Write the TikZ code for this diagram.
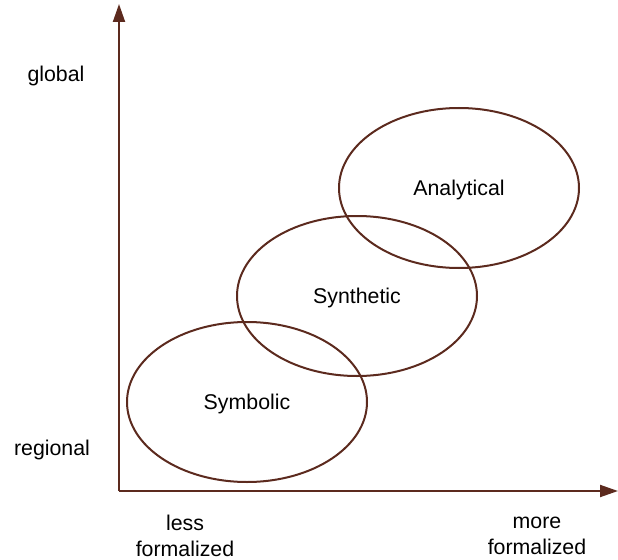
\documentclass[tikz,border=0pt]{standalone}
\usepackage{fontspec}
\setmainfont{Liberation Sans}
\usetikzlibrary{arrows.meta,shapes.geometric}
\definecolor{axisbrown}{RGB}{92,42,30}
\begin{document}
\begin{tikzpicture}[x=0.75pt,y=-0.75pt,
    axis/.style={draw=axisbrown,line width=1.5pt,-{Triangle[length=13.5pt,width=9pt]}},
    area/.style={draw=axisbrown,line width=1.5pt,ellipse,inner sep=0pt,
      text height=11pt,text depth=0pt,
      minimum width=180pt,minimum height=120pt,font=\fontsize{16}{19}\selectfont},
    lbl/.style={font=\fontsize{16}{19}\selectfont,align=center}]
  \useasboundingbox (0,0) rectangle (618,560);
  \coordinate (origin) at (119,491);
  \coordinate (ytip) at (119,4);
  \coordinate (xtip) at (618,491);
  \draw[axis] (origin) -- (ytip);
  \draw[axis] (origin) -- (xtip);
  \node[area] (symbolic) at (247,402) {Symbolic};
  \node[area] (synthetic) at (357,296) {Synthetic};
  \node[area] (analytical) at (459,188) {Analytical};
  \node[lbl] (global) at (56,76) {global};
  \node[lbl] (regional) at (52,450) {regional};
  \node[lbl] (less) at (185,536) {less\\formalized};
  \node[lbl] (more) at (537,536) {more\\formalized};
\end{tikzpicture}
\end{document}
